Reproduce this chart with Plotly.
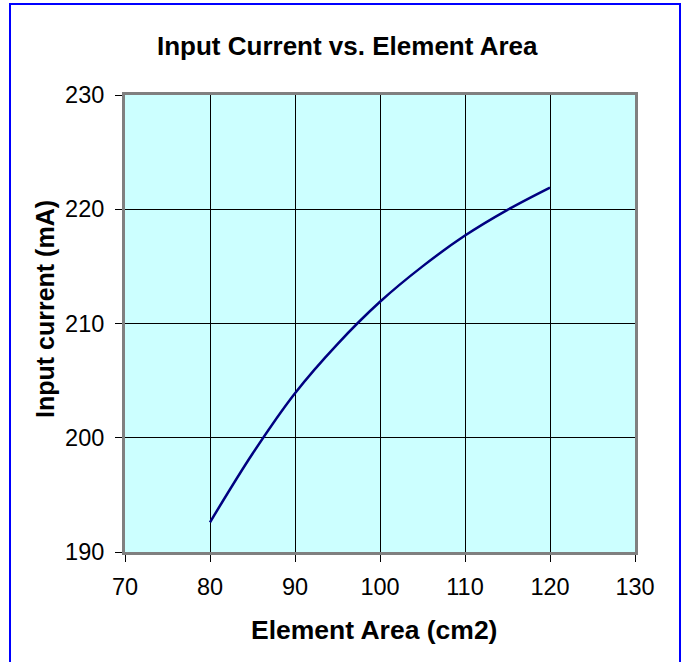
import plotly.graph_objects as go

# Element area (cm2) and the measured input current (mA)
element_area = [80, 85, 90, 95, 100, 105, 110, 115, 120]
input_current = [192.6, 198.6, 203.9, 208.2, 211.9, 215.0, 217.7, 219.95, 221.9]

x_ticks = [70, 80, 90, 100, 110, 120, 130]
y_ticks = [190, 200, 210, 220, 230]

W, H = 691, 662
ML, MR, MT, MB = 125, 56, 95, 110
PW, PH = W - ML - MR, H - MT - MB

FONT = "Liberation Sans, Arial, sans-serif"

fig = go.Figure()
fig.add_trace(go.Scatter(
    x=element_area, y=input_current, mode="lines",
    line=dict(color="#000080", width=2.5, shape="spline", smoothing=1.0),
    hoverinfo="skip", showlegend=False,
))

axis_common = dict(
    showgrid=True, gridcolor="#000000", gridwidth=1,
    showline=True, linecolor="#808080", linewidth=3, mirror=True,
    ticks="outside", ticklen=7, tickcolor="#000000", tickwidth=1,
    tickfont=dict(family=FONT, size=23.5, color="#000000"),
    zeroline=False, fixedrange=True,
)

fig.update_xaxes(range=[70, 130], tickvals=x_ticks, ticktext=[str(v) for v in x_ticks],
                 ticklabelstandoff=5, **axis_common)
fig.update_yaxes(range=[190, 230], tickvals=y_ticks, ticktext=[str(v) for v in y_ticks],
                 ticklabelstandoff=6, **axis_common)

def px_x(p):
    return (p - ML) / PW

def px_y(p):
    return (H - MB - p) / PH

# Chart frame around the whole figure
fig.add_shape(type="rect", xref="paper", yref="paper",
              x0=px_x(10), x1=px_x(680), y0=px_y(700), y1=px_y(4),
              line=dict(color="#0000FF", width=2), fillcolor="rgba(0,0,0,0)", layer="above")

fig.add_annotation(text="<b>Input Current vs. Element Area</b>", xref="paper", yref="paper",
                   x=px_x(347), y=px_y(46), showarrow=False, xanchor="center", yanchor="middle",
                   font=dict(family=FONT, size=26, color="#000000"))
fig.add_annotation(text="<b>Element Area (cm2)</b>", xref="paper", yref="paper",
                   x=px_x(374), y=px_y(630), showarrow=False, xanchor="center", yanchor="middle",
                   font=dict(family=FONT, size=26.5, color="#000000"))
fig.add_annotation(text="<b>Input current (mA)</b>", xref="paper", yref="paper",
                   x=px_x(45), y=px_y(309), showarrow=False, xanchor="center", yanchor="middle",
                   textangle=-90, font=dict(family=FONT, size=25, color="#000000"))

fig.update_layout(
    width=W, height=H, autosize=False,
    margin=dict(l=ML, r=MR, t=MT, b=MB, pad=0),
    paper_bgcolor="#FFFFFF", plot_bgcolor="#CCFFFF",
    font=dict(family=FONT, color="#000000"),
)

fig.write_html("out.html", config={"displayModeBar": False})
